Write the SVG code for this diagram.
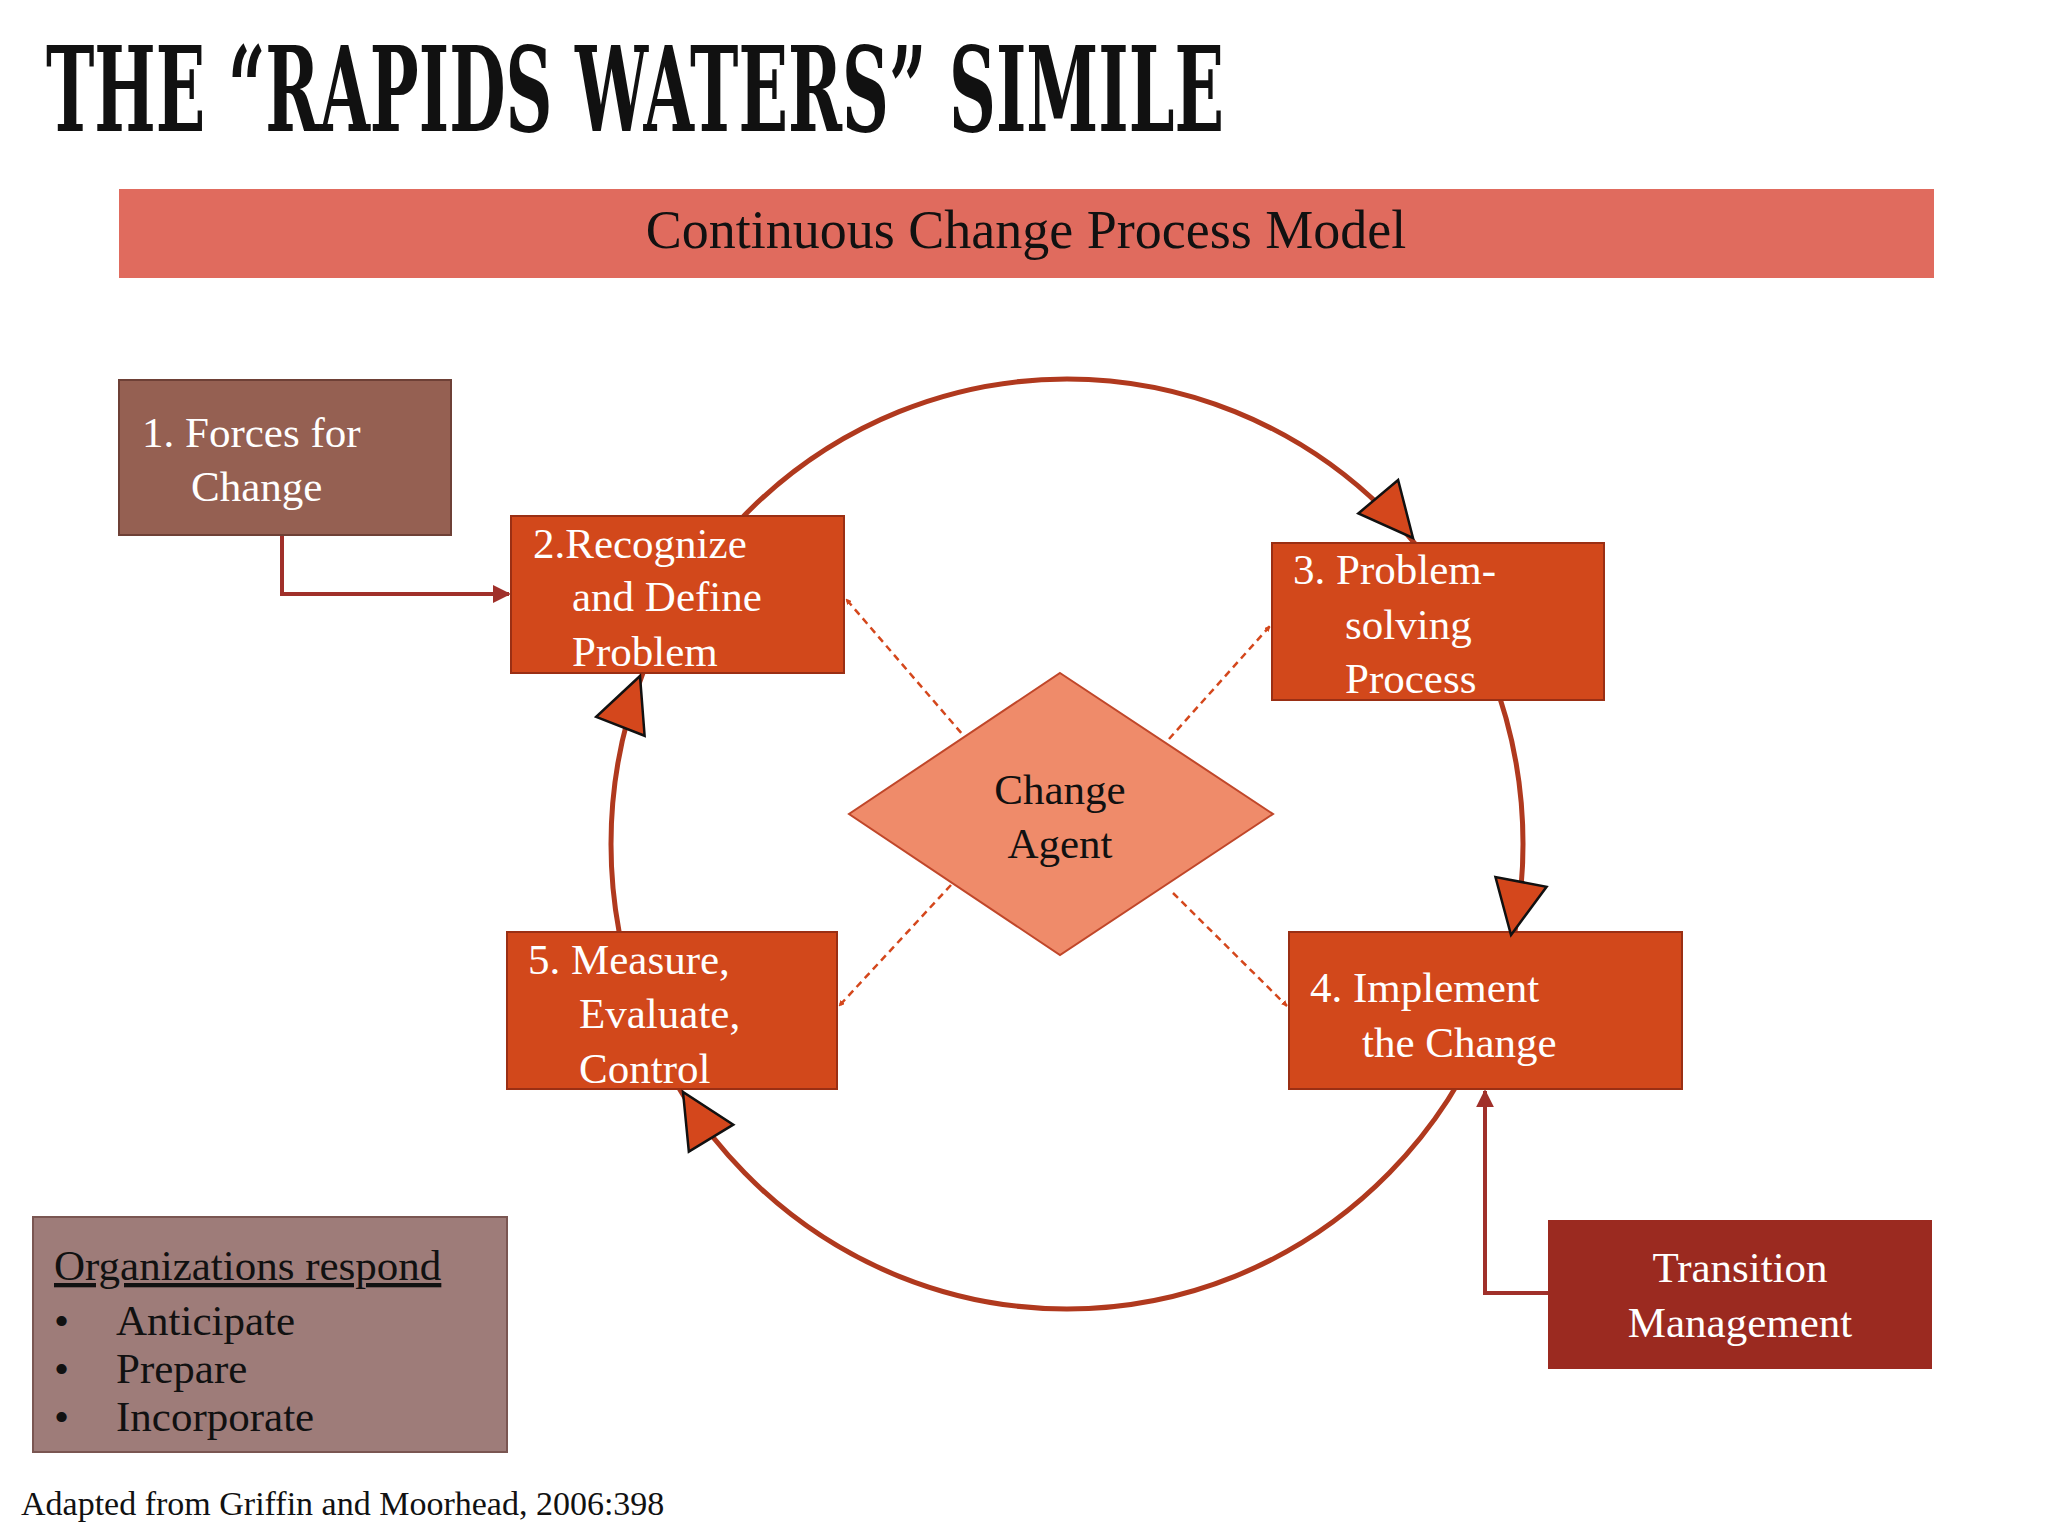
<svg xmlns="http://www.w3.org/2000/svg" width="2048" height="1536" viewBox="0 0 2048 1536">
<defs>
<style>
.t{font-family:"Liberation Serif",serif;font-size:43px;fill:#fff}
.k{fill:#111}
.box{fill:#D2481B;stroke:#9a2f14;stroke-width:2}
.head{fill:#D4471C;stroke:#111;stroke-width:2.5}
.dash{stroke:#D4471C;stroke-width:2.5;stroke-dasharray:7 5;fill:none;marker-end:url(#sm)}
.solid{stroke:#A0302A;stroke-width:4;fill:none;marker-end:url(#sa)}
</style>
<marker id="sm" viewBox="0 0 10 10" refX="9" refY="5" markerWidth="6" markerHeight="6" orient="auto" markerUnits="userSpaceOnUse"><path d="M0,0 L10,5 L0,10 Z" fill="#D4471C"/></marker>
<marker id="sa" viewBox="0 0 10 10" refX="9" refY="5" markerWidth="18" markerHeight="18" orient="auto" markerUnits="userSpaceOnUse"><path d="M0,0 L10,5 L0,10 Z" fill="#A0302A"/></marker>
<polygon id="tri" points="0,0 -54,-26 -54,26"/>
</defs>
<rect width="2048" height="1536" fill="#fff"/>
<text x="46" y="131" font-family="'DejaVu Serif Condensed','DejaVu Serif',serif" font-weight="bold" font-size="118" textLength="1178" lengthAdjust="spacingAndGlyphs" fill="#111">THE “RAPIDS WATERS” SIMILE</text>
<g id="banner"><rect x="119" y="189" width="1815" height="89" fill="#E06B5E"/>
<text x="1026" y="248" text-anchor="middle" font-family="'Liberation Serif',serif" font-size="54" fill="#111">Continuous Change Process Model</text></g>
<g id="connectors">
<ellipse cx="1067" cy="844" rx="456" ry="465" fill="none" stroke="#B0391E" stroke-width="5"/>
<path class="solid" d="M282,535 V594 H509"/>
<path class="solid" d="M1548,1293 H1485 V1091"/>
<path class="dash" d="M969,742 L846,599"/>
<path class="dash" d="M1169,739 L1270,626"/>
<path class="dash" d="M951,885 L839,1006"/>
<path class="dash" d="M1173,893 L1287,1006"/>
</g>
<g id="n1"><rect x="119" y="380" width="332" height="155" fill="#956052" stroke="#6e4036" stroke-width="2"/>
<text class="t" x="142" y="447">1. Forces for</text><text class="t" x="191" y="501">Change</text></g>
<g id="n2"><rect class="box" x="511" y="516" width="333" height="157"/>
<text class="t" x="533" y="558">2.Recognize</text><text class="t" x="572" y="611">and Define</text><text class="t" x="572" y="666">Problem</text></g>
<g id="n3"><rect class="box" x="1272" y="543" width="332" height="157"/>
<text class="t" x="1293" y="584">3. Problem-</text><text class="t" x="1345" y="639">solving</text><text class="t" x="1345" y="693">Process</text></g>
<g id="n4"><rect class="box" x="1289" y="932" width="393" height="157"/>
<text class="t" x="1310" y="1002">4. Implement</text><text class="t" x="1362" y="1057">the Change</text></g>
<g id="n5"><rect class="box" x="507" y="932" width="330" height="157"/>
<text class="t" x="528" y="974">5. Measure,</text><text class="t" x="579" y="1028">Evaluate,</text><text class="t" x="579" y="1083">Control</text></g>
<g id="agent"><polygon points="1060,673 1273,814 1060,955 849,814" fill="#EF8B6A" stroke="#C0472A" stroke-width="2"/>
<text class="t k" x="1060" y="804" text-anchor="middle">Change</text><text class="t k" x="1060" y="858" text-anchor="middle">Agent</text></g>
<g id="heads">
<use href="#tri" class="head" transform="translate(1413,538) rotate(49.9)"/>
<use href="#tri" class="head" transform="translate(1511,935) rotate(100.7)"/>
<use href="#tri" class="head" transform="translate(683,1092) rotate(-121.3)"/>
<use href="#tri" class="head" transform="translate(640,676) rotate(-68.7)"/>
</g>
<g id="transition"><rect x="1548" y="1220" width="384" height="149" fill="#9B2A20"/>
<text class="t" x="1740" y="1282" text-anchor="middle">Transition</text><text class="t" x="1740" y="1337" text-anchor="middle">Management</text></g>
<g id="orgs"><rect x="33" y="1217" width="474" height="235" fill="#9E7C79" stroke="#7a5652" stroke-width="2"/>
<text class="t k" x="54" y="1280" font-size="39" text-decoration="underline">Organizations respond</text>
<text class="t k" x="54" y="1335" font-size="39">•</text><text class="t k" x="116" y="1335" font-size="39">Anticipate</text>
<text class="t k" x="54" y="1383" font-size="39">•</text><text class="t k" x="116" y="1383" font-size="39">Prepare</text>
<text class="t k" x="54" y="1431" font-size="39">•</text><text class="t k" x="116" y="1431" font-size="39">Incorporate</text></g>
<text x="21" y="1515" font-family="'Liberation Serif',serif" font-size="34" fill="#111">Adapted from Griffin and Moorhead, 2006:398</text>
</svg>
